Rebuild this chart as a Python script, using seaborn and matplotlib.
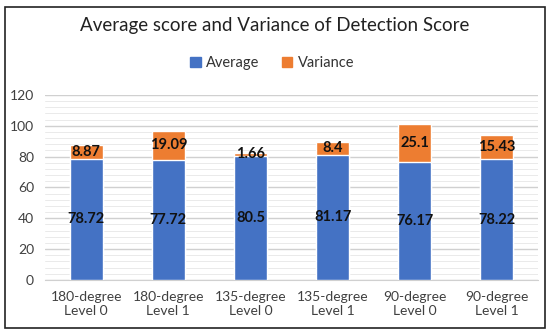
import matplotlib
matplotlib.use("Agg")
import matplotlib.pyplot as plt
import matplotlib.patches as mpatches
from matplotlib.ticker import MultipleLocator
import seaborn as sns
import pandas as pd

# data
categories = ["180-degree\nLevel 0", "180-degree\nLevel 1", "135-degree\nLevel 0",
              "135-degree\nLevel 1", "90-degree\nLevel 0", "90-degree\nLevel 1"]
average = [78.72, 77.72, 80.5, 81.17, 76.17, 78.22]
variance = [8.87, 19.09, 1.66, 8.4, 25.1, 15.43]

blue = "#4472C4"
orange = "#ED7D31"

df = pd.DataFrame({"Category": categories, "Average": average, "Variance": variance})
df["Total"] = df["Average"] + df["Variance"]

sns.set_style("white")
plt.rcParams["font.family"] = ["Lato", "DejaVu Sans"]

fig = plt.figure(figsize=(5.5, 3.34), dpi=100)
ax = fig.add_axes([0.082, 0.162, 0.896, 0.554])

# stacked look: total in orange behind, average in blue in front
sns.barplot(data=df, x="Category", y="Total", color=orange, width=0.4,
            saturation=1, ax=ax, zorder=3)
sns.barplot(data=df, x="Category", y="Average", color=blue, width=0.4,
            saturation=1, ax=ax, zorder=4)

# value labels
for i, row in df.iterrows():
    ax.text(i, row["Average"] / 2, f"{row['Average']:g}", ha="center", va="center",
            fontsize=10.5, fontweight="bold", color="#111111", zorder=5)
    ax.text(i, row["Average"] + row["Variance"] / 2, f"{row['Variance']:g}",
            ha="center", va="center", fontsize=10.5, fontweight="bold",
            color="#111111", zorder=5)

ax.set_ylim(0, 120)
ax.yaxis.set_major_locator(MultipleLocator(20))
ax.yaxis.set_minor_locator(MultipleLocator(4))
ax.grid(axis="y", which="major", color="#d0d0d0", linewidth=1.0, zorder=0)
ax.grid(axis="y", which="minor", color="#e6e6e6", linewidth=0.6, zorder=0)
ax.set_axisbelow(True)
for s in ["top", "right", "left"]:
    ax.spines[s].set_visible(False)
ax.spines["bottom"].set_color("#d0d0d0")
ax.tick_params(axis="both", length=0, labelsize=10, colors="#404040", pad=8)
ax.set_xlabel("")
ax.set_ylabel("")
ax.set_xlim(-0.5, 5.5)

fig.suptitle("Average score and Variance of Detection Score", y=0.95,
             fontsize=13.5, color="#222222")
handles = [mpatches.Patch(color=blue, label="Average"),
           mpatches.Patch(color=orange, label="Variance")]
fig.legend(handles=handles, loc="center", bbox_to_anchor=(0.495, 0.812), ncol=2,
           frameon=False, fontsize=10.5, handlelength=0.7, handleheight=0.7,
           handletextpad=0.4, columnspacing=1.5, labelcolor="#333333")

# outer frame
fig.patches.append(mpatches.Rectangle((0.009, 0.018), 0.982, 0.96,
                                      transform=fig.transFigure, fill=False,
                                      edgecolor="#222222", linewidth=1.2))

fig.savefig("out.png", dpi=100)
